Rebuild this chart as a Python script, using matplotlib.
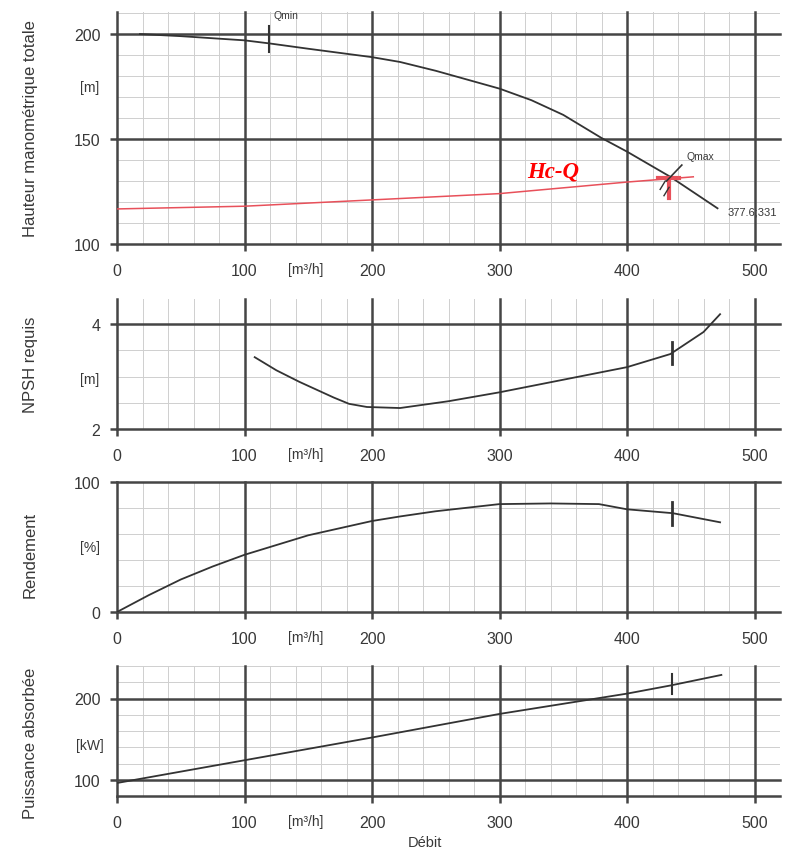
import matplotlib.pyplot as plt
import numpy as np

# debit values (m3/h) and curves
q_h = [18, 50, 100, 120, 150, 200, 222, 250, 300, 325, 350, 380, 400, 434, 471]
h_tot = [200, 199, 197, 195.5, 193, 189, 186.7, 182.5, 174, 168.5, 161.5, 150.5, 144, 132, 117]

q_c = [0, 100, 200, 300, 400, 452]
h_c = [116.7, 118, 121, 124, 129.5, 132]

q_npsh = [108, 125, 143, 170, 182, 196, 222, 260, 300, 350, 400, 434, 460, 473]
npsh = [3.37, 3.12, 2.9, 2.6, 2.48, 2.42, 2.4, 2.53, 2.7, 2.94, 3.18, 3.43, 3.85, 4.19]

q_eta = [0, 25, 50, 75, 100, 150, 200, 222, 250, 300, 340, 378, 400, 436, 473]
eta = [0, 13, 25, 35, 44, 59, 70, 73.5, 77.5, 83, 83.5, 83, 79, 76, 69]

q_p = [0, 100, 200, 300, 400, 434, 474]
puiss = [96, 124, 152, 181, 206, 216, 229]

q_min = 119
q_op = 435
qmin_tick = [191.5, 203.8]
npsh_tick = [3.24, 3.66]
eta_tick = [67, 85]
p_tick = [205, 230]

xticks = [0, 100, 200, 300, 400, 500]

W, H = 787, 853
fig = plt.figure(figsize=(W / 100, H / 100), dpi=100)
plt.rcParams['font.family'] = ['Liberation Sans', 'DejaVu Sans']

txt = '#383838'
major = '#454545'


def make_ax(top, bottom, ylim, yticks, yminor, ylabel, unit, unit_y, extra_lines=(), label_y=0.5):
    left, right = 117, 780
    ax = fig.add_axes([left / W, 1 - bottom / H, (right - left) / W, (bottom - top) / H])
    ax.set_xlim(0, 520)
    ax.set_ylim(*ylim)
    for s in ax.spines.values():
        s.set_visible(False)
    # fine grid
    for x in np.arange(0, 521, 20):
        ax.axvline(x, color='#cfcfcf', lw=0.7, zorder=0)
    for y in yminor:
        ax.axhline(y, color='#cfcfcf', lw=0.7, zorder=0)
    # heavy grid
    for x in xticks:
        ax.axvline(x, color=major, lw=1.8, zorder=1, clip_on=False)
    for y in list(yticks) + list(extra_lines):
        ax.axhline(y, color=major, lw=1.8, zorder=1, clip_on=False)
    ax.set_xticks(xticks)
    ax.set_yticks(yticks)
    ax.tick_params(direction='out', length=5, width=1.8, color=major,
                   labelsize=11.5, labelcolor=txt, pad=7)
    ax.tick_params(axis='x', pad=9)
    ax.set_ylabel(ylabel, fontsize=12, color=txt)
    ax.yaxis.set_label_coords(-0.119, label_y)
    ax.text(-0.041, unit_y, unit, transform=ax.get_yaxis_transform(),
            ha='center', va='center', fontsize=10, color=txt)
    ax.annotate('[m³/h]', xy=(148, 0), xycoords=('data', 'axes fraction'),
                xytext=(0, -13), textcoords='offset points',
                ha='center', va='top', fontsize=10, color=txt)
    return ax


# Hauteur
ax1 = make_ax(13, 245, (100, 210.5), [100, 150, 200],
              np.arange(110, 211, 10), 'Hauteur manométrique totale', '[m]', 175)
ax1.plot(q_h, h_tot, color='#333333', lw=1.3, zorder=3)
ax1.plot(q_c, h_c, color='#e8505a', lw=1.1, zorder=3)
ax1.plot([q_min, q_min], qmin_tick, color='#333333', lw=1.5, zorder=4)
ax1.text(123, 209.3, 'Qmin', fontsize=7.5, color=txt, ha='left', va='center', clip_on=False)
ax1.plot([433, 433], [122, 131], color='#e8505a', lw=3, zorder=4)
ax1.plot([424, 441], [131.5, 131.5], color='#e8505a', lw=3, zorder=4)
ax1.plot([426, 430], [126, 130], color='#333333', lw=1, zorder=5)
ax1.plot([429, 433], [123, 127], color='#333333', lw=1, zorder=5)
ax1.plot([431, 443], [130, 137.6], color='#333333', lw=1.2, zorder=5)
ax1.text(447, 141.8, 'Qmax', fontsize=7.5, color=txt, ha='left', va='center')
ax1.text(479, 115.7, '377.6;331', fontsize=8, color=txt, ha='left', va='center', clip_on=False)
ax1.text(342, 134.6, 'Hc-Q', fontsize=16.5, color='red', fontweight='bold', style='italic',
         family='Liberation Serif', ha='center', va='center')

# NPSH
ax2 = make_ax(300, 430, (2, 4.48), [2, 4], [2.5, 3, 3.5, 4.5], 'NPSH requis', '[m]', 2.95)
ax2.plot(q_npsh, npsh, color='#333333', lw=1.3, zorder=3)
ax2.plot([q_op, q_op], npsh_tick, color='#333333', lw=2, zorder=4)

# Rendement
ax3 = make_ax(483, 613, (0, 100), [0, 100], [20, 40, 60, 80], 'Rendement', '[%]', 50,
              label_y=0.45)
ax3.plot(q_eta, eta, color='#333333', lw=1.3, zorder=3)
ax3.plot([q_op, q_op], eta_tick, color='#333333', lw=2, zorder=4)

# Puissance
ax4 = make_ax(667, 797, (80, 240), [100, 200], [120, 140, 160, 180, 220, 240],
              'Puissance absorbée', '[kW]', 142.5, extra_lines=[80], label_y=0.41)
ax4.plot(q_p, puiss, color='#333333', lw=1.3, zorder=3)
ax4.plot([q_op, q_op], p_tick, color='#333333', lw=1.5, zorder=4)

fig.text(425 / W, 1 - 843 / H, 'Débit', fontsize=10.5, color=txt, ha='center', va='center')

fig.savefig('out.png', dpi=100, facecolor='white')
